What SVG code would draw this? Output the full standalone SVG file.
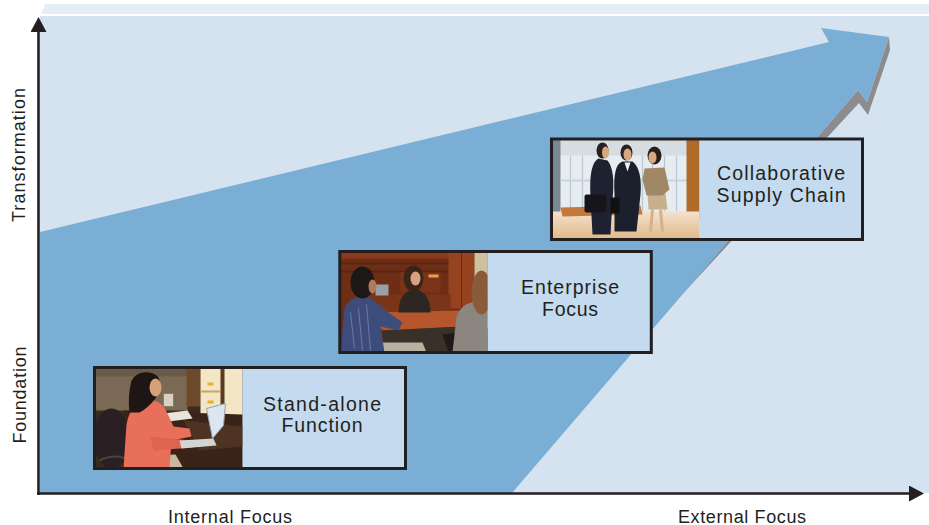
<svg xmlns="http://www.w3.org/2000/svg" width="929" height="525" viewBox="0 0 929 525">
  <style>
    .axis { stroke: #231f20; stroke-width: 2.6; fill: none; }
    .axislabel { font-family: "Liberation Sans", Arial, sans-serif; font-size: 18px; fill: #231f20; text-anchor: middle; }
    .boxlabel { font-family: "Liberation Sans", Arial, sans-serif; font-size: 19.5px; fill: #231f20; text-anchor: middle; }
    .boxfill { fill: #c4daee; stroke: none; }
    .boxframe { fill: none; stroke: #231f20; stroke-width: 3; }
  </style>
  <defs>
    <marker id="axisHead" markerUnits="userSpaceOnUse" viewBox="0 0 15 16" markerWidth="15" markerHeight="16" refX="0" refY="8" orient="auto">
      <path d="M0,0 L15,8 L0,16 z" fill="#231f20"/>
    </marker>
    <clipPath id="photoClip" clipPathUnits="userSpaceOnUse">
      <rect x="0" y="0" width="147" height="100"/>
    </clipPath>
    <linearGradient id="floorGrad" x1="0" y1="0" x2="0" y2="1">
      <stop offset="0" stop-color="#f2e2cc"/>
      <stop offset="1" stop-color="#e2b888"/>
    </linearGradient>
  </defs>

  <!-- background -->
  <g id="background">
    <rect x="0" y="0" width="929" height="525" fill="#ffffff"/>
    <polygon points="41,14 45.5,4 929,4 929,14" fill="#e5edf6"/>
    <rect x="40" y="16" width="889" height="477" fill="#d5e3f0"/>
  </g>

  <!-- big growth arrow -->
  <g id="growth-arrow">
    <polygon points="889,37 890,50 868,115 859,103 677,300 858,90 867,102" fill="#8c8c8e"/>
    <polygon points="40,232 829,42 821,28 889,37 867,102 858,90 512,493 40,493" fill="#7aaed5"/>
  </g>

  <!-- axes -->
  <g id="connectors">
    <line class="axis" x1="38.5" y1="495" x2="38.5" y2="32" marker-end="url(#axisHead)"/>
    <line class="axis" x1="37" y1="493.5" x2="909" y2="493.5" marker-end="url(#axisHead)"/>
  </g>

  <!-- axis labels -->
  <g id="axis-labels">
    <text class="axislabel" transform="translate(25,155) rotate(-90)" x="0" y="0" textLength="134" lengthAdjust="spacing">Transformation</text>
    <text class="axislabel" transform="translate(25.5,395) rotate(-90)" x="0" y="0" textLength="97" lengthAdjust="spacing">Foundation</text>
    <text class="axislabel" x="230" y="522.5" textLength="124" lengthAdjust="spacing">Internal Focus</text>
    <text class="axislabel" x="742" y="522.5" textLength="128" lengthAdjust="spacing">External Focus</text>
  </g>

  <!-- Node 1: Stand-alone Function -->
  <g id="node-standalone">
    <rect class="boxfill" x="94.5" y="367.5" width="311" height="101"/>
    <g transform="translate(95.5,368.5)">
      <g clip-path="url(#photoClip)">
        <rect width="147" height="100" fill="#3b2a20"/>
        <rect x="0" y="0" width="92" height="42" fill="#7a6a55"/>
        <rect x="0" y="0" width="92" height="8" fill="#6a5a48"/>
        <rect x="91" y="0" width="14" height="38" fill="#6e4a2c"/>
        <rect x="105" y="0" width="42" height="50" fill="#f2e6c4"/>
        <rect x="125" y="0" width="4" height="52" fill="#5a3a22"/>
        <rect x="105" y="22" width="20" height="2" fill="#c8a860"/>
        <rect x="112" y="14" width="6" height="3" fill="#e8b030"/>
        <rect x="112" y="32" width="6" height="3" fill="#e8b030"/>
        <polygon points="28,42 147,46 147,100 28,100" fill="#3a241a"/>
        <polygon points="88,52 147,58 147,78 104,82" fill="#4e3222"/>
        <polygon points="68,45 92,42 97,50 73,53" fill="#e8e4dc"/>
        <rect x="68" y="25" width="10" height="13" fill="#d8d0c0" stroke="#8a7a62" stroke-width="1"/>
        <ellipse cx="16" cy="70" rx="18" ry="30" fill="#2a2024"/>
        <path d="M4,92 Q20,84 34,92" stroke="#4a4040" stroke-width="2" fill="none"/>
        <polygon points="40,88 80,86 88,100 36,100" fill="#c8b8a0"/>
        <path d="M28,100 L31,56 Q35,34 52,31 Q66,31 72,45 L78,58 L94,60 L96,68 L76,72 L74,100 z" fill="#e8705a"/>
        <path d="M55,68 L95,72 L97,79 L58,82 z" fill="#de6450"/>
        <path d="M36,12 Q42,2 54,4 Q66,6 64,18 L60,30 Q52,40 44,44 L34,44 Q32,28 36,12 z" fill="#1e1614"/>
        <ellipse cx="60" cy="19" rx="6" ry="9" fill="#d8a078"/>
        <polygon points="111,40 130,35 128,57 117,70" fill="#dbe6f2" stroke="#9aa0aa" stroke-width="1"/>
        <polygon points="84,72 118,70 121,77 86,80" fill="#d4d4d4"/>
      </g>
    </g>
    <rect class="boxframe" x="94.5" y="367.5" width="311" height="101"/>
    <text class="boxlabel" x="322" y="411" textLength="118" lengthAdjust="spacing">Stand-alone</text>
    <text class="boxlabel" x="322" y="432" textLength="81" lengthAdjust="spacing">Function</text>
  </g>

  <!-- Node 2: Enterprise Focus -->
  <g id="node-enterprise">
    <rect class="boxfill" x="339.8" y="251.5" width="311.5" height="101"/>
    <g transform="translate(340.5,252.5)">
      <g clip-path="url(#photoClip)">
        <rect width="147" height="100" fill="#6e2e16"/>
        <rect x="0" y="0" width="110" height="6" fill="#8c3a1c"/>
        <rect x="0" y="10" width="110" height="2" fill="#5a2410"/>
        <rect x="0" y="18" width="110" height="2" fill="#5a2410"/>
        <rect x="60" y="20" width="40" height="20" fill="#7c3418"/>
        <rect x="88" y="22" width="10" height="3" fill="#e8a050"/>
        <rect x="108" y="0" width="26" height="56" fill="#96421e"/>
        <rect x="120.5" y="0" width="1" height="56" fill="#6a2a10"/>
        <rect x="134" y="0" width="13" height="42" fill="#cfc0a0"/>
        <rect x="25" y="42" width="85" height="20" fill="#7a3418"/>
        <rect x="35" y="32" width="13" height="11" fill="#9aa0a8"/>
        <polygon points="28,60 122,58 122,74 42,78" fill="#b5562c"/>
        <polygon points="42,78 122,74 122,100 42,100" fill="#3a302a"/>
        <path d="M58,60 Q58,40 74,36 Q90,40 90,60 z" fill="#2e2622"/>
        <ellipse cx="73" cy="26" rx="10" ry="13" fill="#3a2418"/>
        <ellipse cx="75" cy="26" rx="5" ry="7" fill="#d8a080"/>
        <polygon points="102,82 147,76 147,100 108,100" fill="#1e1a1a"/>
        <path d="M112,100 L116,64 Q120,52 134,49 L147,49 L147,100 z" fill="#8c8680"/>
        <ellipse cx="141" cy="40" rx="10" ry="22" fill="#8a5a3a"/>
        <polygon points="40,90 82,90 86,100 40,100" fill="#b8b0a0"/>
        <path d="M0,100 L4,56 Q10,42 28,44 L48,60 L62,70 L58,78 L40,74 L44,100 z" fill="#3e4c7c"/>
        <path d="M10,60 L14,96 M18,56 L22,98 M26,52 L30,98" stroke="#6a7aa8" stroke-width="1" fill="none"/>
        <ellipse cx="22" cy="30" rx="12" ry="16" fill="#1c1816"/>
        <ellipse cx="32" cy="34" rx="4" ry="7" fill="#b07a58"/>
      </g>
    </g>
    <rect class="boxframe" x="339.8" y="251.5" width="311.5" height="101"/>
    <text class="boxlabel" x="570" y="294.3" textLength="98" lengthAdjust="spacing">Enterprise</text>
    <text class="boxlabel" x="570" y="316" textLength="56" lengthAdjust="spacing">Focus</text>
  </g>

  <!-- Node 3: Collaborative Supply Chain -->
  <g id="node-collaborative">
    <rect class="boxfill" x="551.5" y="139" width="311" height="100.5"/>
    <g transform="translate(552.5,139.5)">
      <g clip-path="url(#photoClip)">
        <rect width="147" height="100" fill="#e6ecf0"/>
        <rect x="0" y="0" width="147" height="16" fill="#d6dde2"/>
        <rect x="0" y="0" width="8" height="76" fill="#7a8894"/>
        <path d="M18,16 V72 M30,16 V72 M90,16 V72 M100,16 V72 M112,16 V72 M124,16 V72" stroke="#b8c8d4" stroke-width="1.2" fill="none"/>
        <rect x="8" y="40" width="127" height="2" fill="#c8d4dc"/>
        <rect x="134" y="0" width="13" height="80" fill="#b06a2a"/>
        <rect x="0" y="72" width="147" height="28" fill="url(#floorGrad)"/>
        <polygon points="8,68 88,66 90,75 10,77" fill="#c4783a"/>
        <path d="M40,95 L38,58 Q36,24 46,19 L55,21 Q63,30 60,60 L58,95 z" fill="#1e2230"/>
        <ellipse cx="50" cy="11" rx="6" ry="8" fill="#2a2020"/>
        <ellipse cx="53" cy="13" rx="3.5" ry="6" fill="#d8a880"/>
        <rect x="32" y="55" width="22" height="18" rx="2" fill="#16161a"/>
        <path d="M62,92 L62,55 Q60,25 70,22 L80,22 Q90,30 88,55 L84,92 z" fill="#1c202c"/>
        <polygon points="72,23 78,23 75,32" fill="#f0f0f0"/>
        <rect x="58" y="58" width="9" height="16" fill="#101014"/>
        <ellipse cx="74" cy="13" rx="6" ry="8" fill="#2a2020"/>
        <ellipse cx="75" cy="15" rx="4" ry="6" fill="#d8a880"/>
        <path d="M100,70 L98,92 M108,70 L110,92" stroke="#d8b090" stroke-width="3" fill="none"/>
        <polygon points="95,54 113,54 115,70 96,70" fill="#c8b08c"/>
        <path d="M92,29 L112,28 L117,50 L110,56 L94,56 L90,40 z" fill="#a08866"/>
        <ellipse cx="102" cy="16" rx="7" ry="9" fill="#2a1c16"/>
        <ellipse cx="100" cy="18" rx="4" ry="6" fill="#d8a880"/>
      </g>
    </g>
    <rect class="boxframe" x="551.5" y="139" width="311" height="100.5"/>
    <text class="boxlabel" x="781" y="180" textLength="128" lengthAdjust="spacing">Collaborative</text>
    <text class="boxlabel" x="781" y="202" textLength="129" lengthAdjust="spacing">Supply Chain</text>
  </g>
</svg>
